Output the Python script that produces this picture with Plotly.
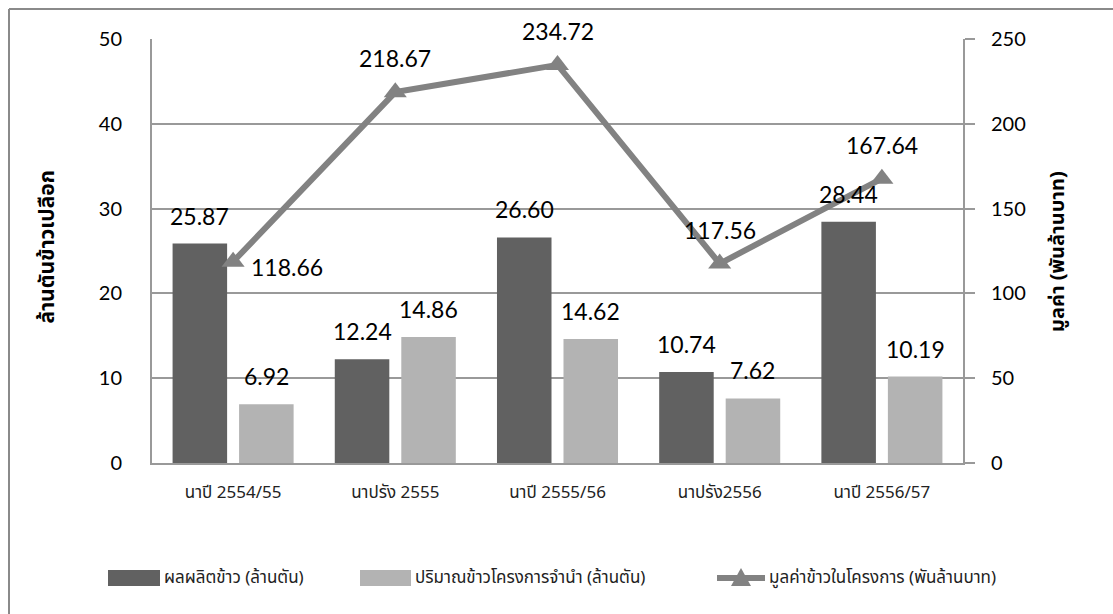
import plotly.graph_objects as go

categories = ["นาปี 2554/55", "นาปรัง 2555", "นาปี 2555/56", "นาปรัง2556", "นาปี 2556/57"]
production = [25.87, 12.24, 26.60, 10.74, 28.44]
pledged = [6.92, 14.86, 14.62, 7.62, 10.19]
value = [118.66, 218.67, 234.72, 117.56, 167.64]
production_labels = ["25.87", "12.24", "26.60", "10.74", "28.44"]
pledged_labels = ["6.92", "14.86", "14.62", "7.62", "10.19"]
value_labels = ["118.66", "218.67", "234.72", "117.56", "167.64"]

name_prod = "ผลผลิตข้าว (ล้านตัน)"
name_pledge = "ปริมาณข้าวโครงการจำนำ (ล้านตัน)"
name_value = "มูลค่าข้าวในโครงการ (พันล้านบาท)"

DARK = "#616161"
LIGHT = "#b3b3b3"
LINE = "#828282"
GRID = "#999999"
NUM_FONT = "Lato, Open Sans, sans-serif"
THAI_FONT = "Noto Sans Thai, Loma, Garuda, Tlwg Typo, sans-serif"

BARGAP = 0.18
GROUPGAP = 0.18
off = (1 - BARGAP) / 4  # center offset of each bar within a category

idx = list(range(len(categories)))

fig = go.Figure()
fig.add_trace(go.Bar(x=idx, y=production, name=name_prod, marker=dict(color=DARK, line=dict(width=0)), showlegend=False))
fig.add_trace(go.Bar(x=idx, y=pledged, name=name_pledge, marker=dict(color=LIGHT, line=dict(width=0)), showlegend=False))
fig.add_trace(go.Scatter(x=idx, y=value, name=name_value, yaxis="y2", mode="lines+markers",
                         line=dict(color=LINE, width=6),
                         marker=dict(symbol="triangle-up", size=20, color=LINE),
                         showlegend=False))

annotations = []
for i, (v, t) in enumerate(zip(production, production_labels)):
    annotations.append(dict(x=i - off, y=v, xref="x", yref="y", text=t, showarrow=False,
                            yanchor="bottom", yshift=12, font=dict(size=23, color="black", family=NUM_FONT)))
for i, (v, t) in enumerate(zip(pledged, pledged_labels)):
    annotations.append(dict(x=i + off, y=v, xref="x", yref="y", text=t, showarrow=False,
                            yanchor="bottom", yshift=12, font=dict(size=23, color="black", family=NUM_FONT)))
for i, (v, t) in enumerate(zip(value, value_labels)):
    if i == 0:
        annotations.append(dict(x=i, y=v, xref="x", yref="y2", text=t, showarrow=False,
                                xanchor="left", yanchor="middle", xshift=16, yshift=-5,
                                font=dict(size=23, color="black", family=NUM_FONT)))
    else:
        annotations.append(dict(x=i, y=v, xref="x", yref="y2", text=t, showarrow=False,
                                yanchor="bottom", yshift=18,
                                font=dict(size=23, color="black", family=NUM_FONT)))

# axis titles
annotations.append(dict(x=-0.150, y=0.51, xref="paper", yref="paper", text="<b>ล้านตันข้าวเปลือก</b>",
                        textangle=-90, showarrow=False, font=dict(size=21, color="black", family=THAI_FONT)))
annotations.append(dict(x=1.138, y=0.50, xref="paper", yref="paper", text="<b>มูลค่า (พันล้านบาท)</b>",
                        textangle=-90, showarrow=False, font=dict(size=20, color="black", family=THAI_FONT)))


def px_x(p):
    return (p - 152) / 811


def px_y(p):
    return (463 - p) / 424


shapes = []
# custom legend
shapes.append(dict(type="rect", xref="paper", yref="paper", x0=px_x(108), x1=px_x(160), y0=px_y(570), y1=px_y(586),
                   fillcolor=DARK, line=dict(width=0)))
shapes.append(dict(type="rect", xref="paper", yref="paper", x0=px_x(360), x1=px_x(411), y0=px_y(570), y1=px_y(586),
                   fillcolor=LIGHT, line=dict(width=0)))
shapes.append(dict(type="line", xref="paper", yref="paper", x0=px_x(717), x1=px_x(765), y0=px_y(578), y1=px_y(578),
                   line=dict(color=LINE, width=6)))
shapes.append(dict(type="path", xref="paper", yref="paper",
                   path=f"M {px_x(741)} {px_y(568)} L {px_x(751)} {px_y(586)} L {px_x(731)} {px_y(586)} Z",
                   fillcolor=LINE, line=dict(color=LINE, width=0)))
# chart border (left and top)
shapes.append(dict(type="line", xref="paper", yref="paper", x0=px_x(9), x1=px_x(9), y0=px_y(9), y1=px_y(614),
                   line=dict(color="#8a8a8a", width=2)))
shapes.append(dict(type="line", xref="paper", yref="paper", x0=px_x(9), x1=px_x(1113), y0=px_y(9), y1=px_y(9),
                   line=dict(color="#8a8a8a", width=2)))

for x0, t in [(162, name_prod), (413, name_pledge), (767, name_value)]:
    annotations.append(dict(x=px_x(x0), y=px_y(578), xref="paper", yref="paper", text=t, showarrow=False,
                            xanchor="left", yanchor="middle", font=dict(size=17, color="#222222", family=THAI_FONT)))

fig.update_layout(
    width=1113, height=614,
    margin=dict(l=152, r=150, t=39, b=151),
    paper_bgcolor="white", plot_bgcolor="white",
    barmode="group", bargap=BARGAP, bargroupgap=GROUPGAP,
    showlegend=False,
    xaxis=dict(tickmode="array", tickvals=idx, ticktext=categories, range=[-0.5, len(categories) - 0.5],
               showline=True, linecolor=GRID, linewidth=2, ticks="", showgrid=False,
               tickfont=dict(size=17, color="#222222", family=THAI_FONT), ticklabelstandoff=13),
    yaxis=dict(range=[0, 50], dtick=10, showgrid=True, gridcolor=GRID, gridwidth=1.5,
               showline=True, linecolor=GRID, linewidth=2, ticks="", zeroline=False,
               tickfont=dict(size=20, color="black", family=NUM_FONT), ticklabelstandoff=24),
    yaxis2=dict(range=[0, 250], dtick=50, overlaying="y", side="right", showgrid=False,
                showline=True, linecolor=GRID, linewidth=2, ticks="outside", ticklen=10, tickcolor=GRID,
                tickwidth=1.5, zeroline=False,
                tickfont=dict(size=20, color="black", family=NUM_FONT), ticklabelstandoff=12),
    annotations=annotations,
    shapes=shapes,
)

fig.write_html("out.html")
